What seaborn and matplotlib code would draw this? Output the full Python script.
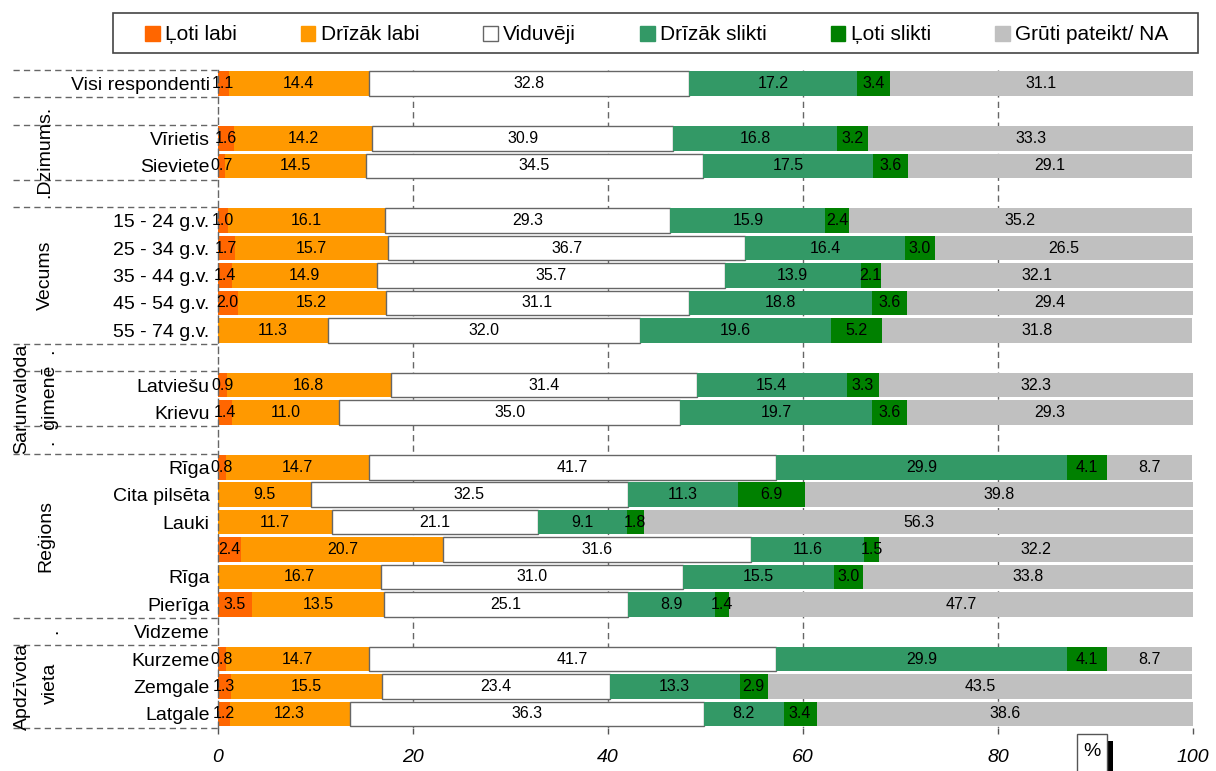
import numpy as np
import pandas as pd
import matplotlib
matplotlib.use("Agg")
import matplotlib.pyplot as plt
from matplotlib.patches import Patch, Rectangle
import seaborn as sns

# rindas (Vidzeme bez datiem)
rows = ["Visi respondenti", "Vīrietis", "Sieviete",
        "15 - 24 g.v.", "25 - 34 g.v.", "35 - 44 g.v.", "45 - 54 g.v.", "55 - 74 g.v.",
        "Latviešu", "Krievu",
        "Rīga", "Cita pilsēta", "Lauki", "", "Rīga", "Pierīga", "Vidzeme",
        "Kurzeme", "Zemgale", "Latgale"]

loti_labi = [1.1, 1.6, 0.7, 1.0, 1.7, 1.4, 2.0, 0.0, 0.9, 1.4,
             0.8, 0.0, 0.0, 2.4, 0.0, 3.5, np.nan, 0.8, 1.3, 1.2]
drizak_labi = [14.4, 14.2, 14.5, 16.1, 15.7, 14.9, 15.2, 11.3, 16.8, 11.0,
               14.7, 9.5, 11.7, 20.7, 16.7, 13.5, np.nan, 14.7, 15.5, 12.3]
viduveji = [32.8, 30.9, 34.5, 29.3, 36.7, 35.7, 31.1, 32.0, 31.4, 35.0,
            41.7, 32.5, 21.1, 31.6, 31.0, 25.1, np.nan, 41.7, 23.4, 36.3]
drizak_slikti = [17.2, 16.8, 17.5, 15.9, 16.4, 13.9, 18.8, 19.6, 15.4, 19.7,
                 29.9, 11.3, 9.1, 11.6, 15.5, 8.9, np.nan, 29.9, 13.3, 8.2]
loti_slikti = [3.4, 3.2, 3.6, 2.4, 3.0, 2.1, 3.6, 5.2, 3.3, 3.6,
               4.1, 6.9, 1.8, 1.5, 3.0, 1.4, np.nan, 4.1, 2.9, 3.4]
gruti = [31.1, 33.3, 29.1, 35.2, 26.5, 32.1, 29.4, 31.8, 32.3, 29.3,
         8.7, 39.8, 56.3, 32.2, 33.8, 47.7, np.nan, 8.7, 43.5, 38.6]

series_names = ["Ļoti labi", "Drīzāk labi", "Viduvēji", "Drīzāk slikti",
                "Ļoti slikti", "Grūti pateikt/ NA"]
colours = ["#FF6600", "#FF9900", "#FFFFFF", "#339966", "#008000", "#C0C0C0"]

# rindu vietas (tukšās rindas starp grupām)
row_pos = [0, 2, 3, 5, 6, 7, 8, 9, 11, 12, 14, 15, 16, 17, 18, 19, 20, 21, 22, 23]

df = pd.DataFrame({"pos": row_pos, "rinda": rows})
for name, vals in zip(series_names, [loti_labi, drizak_labi, viduveji,
                                     drizak_slikti, loti_slikti, gruti]):
    df[name] = vals
df = df.dropna().sort_values("pos")

sns.set_theme(style="white")
plt.rcParams['font.family'] = ['Liberation Sans', 'DejaVu Sans']
plt.rcParams['text.color'] = 'black'
plt.rcParams['xtick.labelcolor'] = 'black'
plt.rcParams['ytick.labelcolor'] = 'black'

W, H = 1216, 771
fig = plt.figure(figsize=(W / 100, H / 100), dpi=100)
ax = fig.add_axes([218 / W, 1 - 727.6 / H, 975 / W, 657.6 / H])

dash = (0, (4.5, 3))
cum = np.zeros(len(df))
for name, col in zip(series_names, colours):
    vals = df[name].to_numpy()
    if col == "#FFFFFF":
        ec, lw = "#666666", 1.0
    else:
        ec, lw = "none", 0
    sns.barplot(x=vals, y=df["pos"].to_numpy(), orient="y", native_scale=True,
                left=cum.copy(), color=col, saturation=1, width=0.9,
                errorbar=None, edgecolor=ec, linewidth=lw, zorder=2, ax=ax)
    cum = cum + vals

for cont, name in zip(ax.containers, series_names):
    labs = [f"{v:.1f}" if v > 0 else "" for v in df[name]]
    ax.bar_label(cont, labels=labs, label_type="center", fontsize=11.5,
                 color="black")

ax.vlines([20, 40, 60, 80], -0.5, 23.5, colors="#666666", linestyles=dash,
          linewidth=1, zorder=1)

ax.set_xlim(0, 100)
ax.set_ylim(23.5, -0.5)
ax.set_xlabel("")
ax.set_ylabel("")
ax.set_xticks([0, 20, 40, 60, 80, 100])
ax.set_yticks(row_pos, rows)
ax.tick_params(axis="x", bottom=True, length=4.5, width=1, color="#555555",
               pad=11, labelsize=14, direction="out", labelcolor="black")
ax.tick_params(axis="y", left=False, length=0, pad=6, labelsize=14,
               labelcolor="black")
for lbl in ax.get_xticklabels():
    lbl.set_style("italic")

for s in ["top", "right", "bottom"]:
    ax.spines[s].set_visible(False)
ax.spines["left"].set_linestyle(dash)
ax.spines["left"].set_color("#666666")
ax.spines["left"].set_linewidth(1)

# grupu atdalītāji
ytr = ax.get_yaxis_transform()
for yb in [-0.5, 0.5, 1.5, 3.5, 4.5, 9.5, 10.5, 12.5, 13.5, 19.5, 20.5, 23.5]:
    ax.plot([-0.21, 0], [yb, yb], transform=ytr, clip_on=False,
            color="#666666", linestyle=dash, linewidth=1)

group_txt = [(-0.1774, 2.5, ".Dzimums."), (-0.1774, 7, "Vecums"),
             (-0.201, 11.5, "Sarunvaloda"), (-0.172, 11.45, ".  ģimenē  ."),
             (-0.1774, 16.5, "Reģions"), (-0.201, 22, "Apdzīvota"),
             (-0.172, 21.9, "vieta"), (-0.169, 20, ".")]
for gx, gy, gs in group_txt:
    ax.text(gx, gy, gs, transform=ytr, rotation=90, ha="center", va="center",
            fontsize=14, clip_on=False, color="black")

# leģenda
handles = [Patch(facecolor=c, edgecolor=("#666666" if c == "#FFFFFF" else c),
                 linewidth=1) for c in colours]
fig.legend(handles, series_names, loc="center",
           bbox_to_anchor=(145 / W, 1 - 47 / H, (1168 - 145) / W, 24 / H),
           mode="expand", ncol=6, frameon=False, borderaxespad=0, borderpad=0,
           handlelength=0.7, handleheight=0.7, handletextpad=0.25,
           fontsize=15, columnspacing=1, labelcolor="black")
fig.add_artist(Rectangle((113 / W, 1 - 53 / H), (1198 - 113) / W, 40 / H,
                         transform=fig.transFigure, fill=False,
                         edgecolor="#444444", linewidth=1.2))

# % lodziņš
fig.add_artist(Rectangle((1107 / W, 0), 6 / W, 30 / H, transform=fig.transFigure,
                         facecolor="black", edgecolor="none"))
fig.add_artist(Rectangle((1077 / W, -0.01), 30 / W, (771 - 734) / H + 0.01,
                         transform=fig.transFigure, facecolor="white",
                         edgecolor="#555555", linewidth=1))
fig.text(1092 / W, 1 - 752 / H, "%", ha="center", va="center", fontsize=14,
         color="black")

fig.savefig("out.png", dpi=100)
